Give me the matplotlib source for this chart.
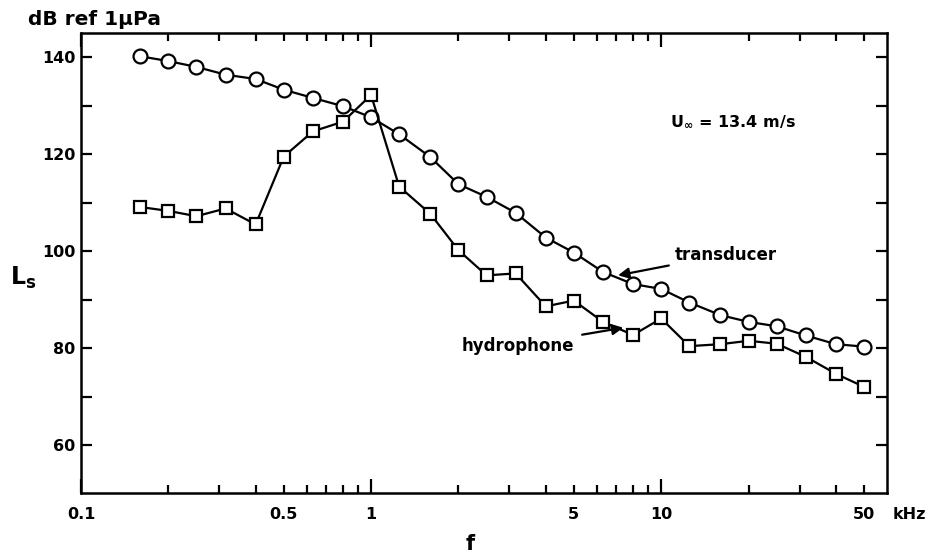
import matplotlib
matplotlib.use("Agg")
import matplotlib.pyplot as plt
from matplotlib.ticker import FixedLocator, FixedFormatter

plt.rcParams['font.family'] = ['DejaVu Sans']
plt.rcParams['font.weight'] = 'bold'

# 1/3-octave band centre frequencies, kHz
freq = [0.16, 0.2, 0.25, 0.315, 0.4, 0.5, 0.63, 0.8, 1.0, 1.25, 1.6, 2.0, 2.5,
        3.15, 4.0, 5.0, 6.3, 8.0, 10.0, 12.5, 16.0, 20.0, 25.0, 31.5, 40.0, 50.0]

# L_s, dB ref 1 uPa
transducer = [140.2, 139.2, 138.0, 136.4, 135.5, 133.3, 131.6, 129.9, 127.6,
              124.1, 119.4, 113.8, 111.2, 107.9, 102.8, 99.7, 95.7, 93.2,
              92.2, 89.4, 86.8, 85.4, 84.5, 82.6, 80.8, 80.3]
hydrophone = [109.1, 108.3, 107.2, 108.8, 105.5, 119.5, 124.7, 126.7, 132.2,
              113.3, 107.7, 100.2, 95.0, 95.4, 88.6, 89.8, 85.4, 82.7,
              86.1, 80.4, 80.8, 81.5, 80.9, 78.2, 74.7, 72.0]

major_x = [0.1, 1, 10]
major_xlabels = ['0.1', '1', '10']
minor_x = [0.2, 0.3, 0.4, 0.5, 0.6, 0.7, 0.8, 0.9,
           2, 3, 4, 5, 6, 7, 8, 9, 20, 30, 40, 50]
minor_xlabels = ['', '', '', '0.5', '', '', '', '',
                 '', '', '', '5', '', '', '', '', '', '', '', '50']
y_ticks = [60, 70, 80, 90, 100, 110, 120, 130, 140]
y_labels = ['60', '', '80', '', '100', '', '120', '', '140']

fig = plt.figure(figsize=(9.35, 5.58), dpi=100)
ax = fig.add_axes([0.0866, 0.1156, 0.862, 0.8253])

ax.plot(freq, transducer, '-o', color='black', lw=1.6, ms=10,
        mfc='white', mec='black', mew=1.6, zorder=3)
ax.plot(freq, hydrophone, '-s', color='black', lw=1.6, ms=8.5,
        mfc='white', mec='black', mew=1.6, zorder=3)

ax.set_xscale('log')
ax.set_xlim(0.1, 60)
ax.set_ylim(50, 145)

ax.xaxis.set_major_locator(FixedLocator(major_x))
ax.xaxis.set_major_formatter(FixedFormatter(major_xlabels))
ax.xaxis.set_minor_locator(FixedLocator(minor_x))
ax.xaxis.set_minor_formatter(FixedFormatter(minor_xlabels))
ax.set_yticks(y_ticks)
ax.set_yticklabels(y_labels)

for s in ax.spines.values():
    s.set_linewidth(1.8)

ax.tick_params(axis='both', which='both', direction='in', top=True, right=True,
               width=1.6, labelsize=11.5)
ax.tick_params(axis='x', which='major', length=10, pad=10)
ax.tick_params(axis='x', which='minor', length=6, pad=10)
ax.tick_params(axis='y', which='major', length=8, pad=4)
for lab in ax.get_xticklabels(which='both') + ax.get_yticklabels():
    lab.set_fontweight('bold')

ax.annotate('kHz', xy=(1, 0), xycoords='axes fraction', xytext=(4, -10),
            textcoords='offset points', ha='left', va='top',
            fontsize=11.5, fontweight='bold')

fig.text(28 / 935, 1 - 25 / 558, 'dB ref 1μPa', fontsize=14.5,
         fontweight='bold', ha='left', va='baseline')
fig.text(10 / 935, 1 - 285 / 558, r'$\mathbf{L}_\mathbf{s}$', fontsize=17,
         ha='left', va='baseline')
fig.text(470 / 935, 1 - 550 / 558, 'f', fontsize=15, fontweight='bold',
         ha='center', va='baseline')

ax.text(10.7, 126.7, r'U$_\infty$ = 13.4 m/s', fontsize=11.5,
        fontweight='bold', ha='left', va='center')

ax.annotate('transducer', xy=(7.1, 95.0), xytext=(11.1, 99.3),
            fontsize=12, fontweight='bold', ha='left', va='center',
            arrowprops=dict(arrowstyle='-|>', color='black', lw=1.6,
                            mutation_scale=16, shrinkA=2, shrinkB=0))
ax.annotate('hydrophone', xy=(7.4, 84.2), xytext=(5.0, 80.5),
            fontsize=12, fontweight='bold', ha='right', va='center',
            arrowprops=dict(arrowstyle='-|>', color='black', lw=1.6,
                            mutation_scale=16, shrinkA=4, shrinkB=0))

fig.savefig('out.png', dpi=100)
